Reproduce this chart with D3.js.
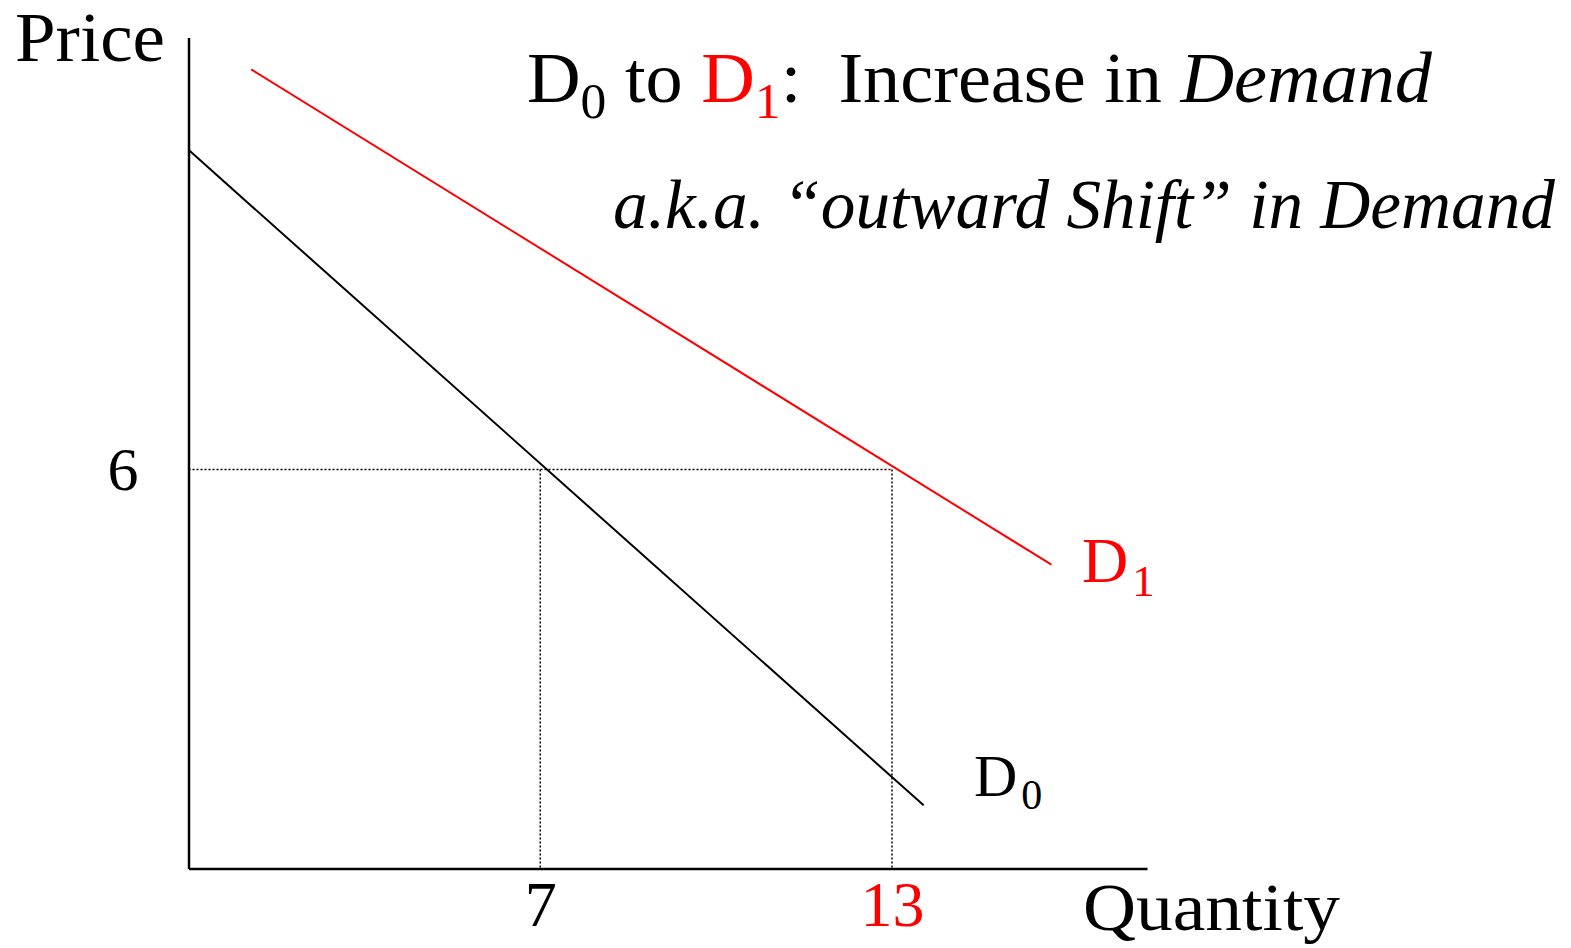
<!DOCTYPE html>
<html>
<head>
<meta charset="utf-8">
<script src="https://cdn.jsdelivr.net/npm/d3@7"></script>
<style>
  html, body { margin: 0; padding: 0; background: #fff; }
  svg { display: block; }
  text { font-family: "Liberation Serif", "Times New Roman", serif; }
</style>
</head>
<body>
<svg id="chart" width="1571" height="948"></svg>
<script>
// ---- data ----
const quantityDomain = [1, 17.35];
const priceDomain = [0, 12.5];
const d0Points = [[1, 10.81], [13.54, 0.95]];
const d1Points = [[2.07, 12.02], [15.72, 4.57]];
const xTicks = [7, 13];
const xTickColors = ["#000", "#ff0000"];
const yTicks = [6];
const equilibriumPrice = 6;
const equilibriumQuantities = [7, 13];

const svg = d3.select("#chart");
const x = d3.scaleLinear().domain(quantityDomain).range([188.5, 1147]);
const y = d3.scaleLinear().domain(priceDomain).range([868.5, 37.5]);

// axes
const xAxis = svg.append("g").attr("transform", `translate(0,${y(0)})`)
  .call(d3.axisBottom(x).tickValues(xTicks).tickSize(0).tickSizeOuter(0).tickPadding(12).tickFormat(d3.format("d")));
xAxis.select(".domain").attr("stroke", "#000").attr("stroke-width", 2.5);
xAxis.selectAll("text").attr("font-size", 64).attr("font-family", "Liberation Serif")
  .attr("fill", (d, i) => xTickColors[i]);

const yAxis = svg.append("g").attr("transform", `translate(${x(quantityDomain[0])},0)`)
  .call(d3.axisLeft(y).tickValues(yTicks).tickSize(0).tickSizeOuter(0).tickPadding(50).tickFormat(d3.format("d")));
yAxis.select(".domain").attr("stroke", "#000").attr("stroke-width", 2.5);
yAxis.selectAll("text").attr("font-size", 62).attr("font-family", "Liberation Serif").attr("fill", "#000");

// dotted guides
svg.append("line")
  .attr("x1", x(quantityDomain[0])).attr("x2", x(equilibriumQuantities[1]))
  .attr("y1", y(equilibriumPrice)).attr("y2", y(equilibriumPrice))
  .attr("stroke", "#000").attr("stroke-width", 1.5).attr("stroke-dasharray", "2,2");
equilibriumQuantities.forEach(q => {
  svg.append("line")
    .attr("x1", x(q)).attr("x2", x(q))
    .attr("y1", y(equilibriumPrice)).attr("y2", y(0))
    .attr("stroke", "#000").attr("stroke-width", 1.5).attr("stroke-dasharray", "2,2");
});

// demand curves
const line = d3.line().x(d => x(d[0])).y(d => y(d[1]));
svg.append("path").datum(d0Points).attr("d", line).attr("fill", "none").attr("stroke", "#000").attr("stroke-width", 2);
svg.append("path").datum(d1Points).attr("d", line).attr("fill", "none").attr("stroke", "#ff0000").attr("stroke-width", 2);

// axis titles
svg.append("text").attr("x", 15).attr("y", 61).attr("font-size", 70).attr("textLength", 150).attr("lengthAdjust", "spacingAndGlyphs").text("Price");
svg.append("text").attr("x", 1083).attr("y", 930).attr("font-size", 68).attr("textLength", 257).attr("lengthAdjust", "spacingAndGlyphs").text("Quantity");

// curve labels
function subLabel(xp, yp, size, main, sub, color) {
  const t = svg.append("text").attr("x", xp).attr("y", yp).attr("font-size", size).attr("fill", color);
  t.append("tspan").text(main);
  t.append("tspan").attr("font-size", size * 0.7).attr("dx", 4).attr("dy", size * 0.22).text(sub);
  return t;
}
subLabel(1082, 582, 64, "D", "1", "#ff0000");
subLabel(974, 796, 60, "D", "0", "#000");

// title
const title = svg.append("text").attr("x", 527).attr("y", 102).attr("font-size", 72).attr("fill", "#000")
  .attr("textLength", 905).attr("lengthAdjust", "spacingAndGlyphs");
title.append("tspan").text("D");
title.append("tspan").attr("font-size", 50).attr("dy", 16).text("0");
title.append("tspan").attr("dy", -16).text(" to ");
title.append("tspan").attr("fill", "#ff0000").text("D");
title.append("tspan").attr("fill", "#ff0000").attr("font-size", 50).attr("dy", 16).text("1");
title.append("tspan").attr("dy", -16).text(":\u00a0 Increase in ");
title.append("tspan").attr("font-style", "italic").text("Demand");

svg.append("text").attr("x", 613).attr("y", 228).attr("font-size", 70).attr("font-style", "italic")
  .attr("textLength", 942).attr("lengthAdjust", "spacingAndGlyphs")
  .text("a.k.a. \u201coutward Shift\u201d in Demand");
</script>
</body>
</html>
